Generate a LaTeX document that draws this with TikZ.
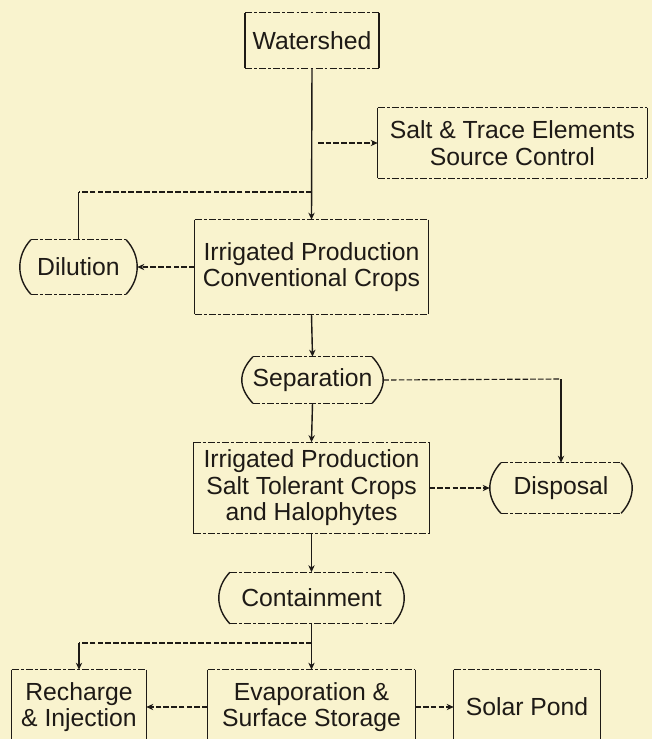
\documentclass[tikz,border=0pt]{standalone}
\usepackage{fontspec}
\setmainfont{Liberation Sans}
\usetikzlibrary{arrows.meta}
\definecolor{paper}{RGB}{249,243,206}
\definecolor{ink}{RGB}{30,26,22}
\tikzset{
  lbl/.style={inner sep=0pt, align=center, text=ink, font=\fontsize{17.6pt}{18.9pt}\selectfont},
  side/.style={draw=ink, line width=1pt},
  brk/.style={draw=ink, line width=0.7pt, dash pattern=on 5pt off 1.5pt on 2pt off 1.5pt},
  dline/.style={draw=ink, line width=0.8pt, dash pattern=on 4pt off 1.5pt},
  flow/.style={side, -{Stealth[length=5pt,width=4.5pt]}},
  dflow/.style={dline, -{Stealth[length=5pt,width=4.5pt]}}
}

\begin{document}
\begin{tikzpicture}[x=0.025cm, y=-0.025cm]
\useasboundingbox (0,0) rectangle (652,739);
\clip (0,0) rectangle (652,739);
\fill[paper] (0,0) rectangle (652,739);

\node[lbl, minimum width=3.325cm, minimum height=1.375cm] (w) at (312,40.5) {Watershed};
\node[lbl, minimum width=6.725cm, minimum height=1.75cm] (sc) at (512.5,143) {Salt \& Trace Elements\\Source Control};
\node[lbl, minimum width=5.825cm, minimum height=2.35cm] (ic) at (311.5,267) {Irrigated Production\\Conventional Crops};
\node[lbl, minimum width=2.925cm, minimum height=1.35cm] (dl) at (78.5,267) {Dilution};
\node[lbl, minimum width=3.525cm, minimum height=1.15cm] (se) at (312.5,380) {Separation};
\node[lbl, minimum width=5.875cm, minimum height=2.275cm] (it) at (311.5,488) {Irrigated Production\\Salt Tolerant Crops\\and Halophytes};
\node[lbl, minimum width=3.55cm, minimum height=1.25cm] (ds) at (561,488) {Disposal};
\node[lbl, minimum width=4.625cm, minimum height=1.275cm] (co) at (311.5,598) {Containment};
\node[lbl, minimum width=3.35cm, minimum height=1.85cm] (rc) at (79,707) {Recharge\\\& Injection};
\node[lbl, minimum width=5.175cm, minimum height=1.85cm] (ev) at (311.5,707) {Evaporation \&\\Surface Storage};
\node[lbl, minimum width=3.65cm, minimum height=1.85cm] (sp) at (527,707) {Solar Pond};

% box outlines: solid sides, broken top and bottom
\foreach \n in {w,sc,ic,it,rc,ev,sp} {
  \draw[side] (\n.north west) -- (\n.south west) (\n.north east) -- (\n.south east);
  \draw[brk] (\n.north west) -- (\n.north east) (\n.south west) -- (\n.south east);
}
% bracket-like ends
\foreach \n in {dl,se,ds,co} {
  \draw[side] ([xshift=2.8mm]\n.north west) .. controls +(-3.7mm,-4mm) and +(-3.7mm,4mm) .. ([xshift=2.8mm]\n.south west);
  \draw[side] ([xshift=-2.8mm]\n.north east) .. controls +(3.7mm,-4mm) and +(3.7mm,4mm) .. ([xshift=-2.8mm]\n.south east);
  \draw[brk] ([xshift=2.8mm]\n.north west) -- ([xshift=-2.8mm]\n.north east) ([xshift=2.8mm]\n.south west) -- ([xshift=-2.8mm]\n.south east);
}

\coordinate (t1) at (318,143);
\coordinate (t2) at (312,192);
\coordinate (c2) at (78.5,192);
\coordinate (c3) at (561,379);
\coordinate (t4) at (312,643);
\coordinate (c4) at (79,643);

\draw[flow] (w.south) -- (ic.north);
\draw[dflow] (t1) -- (sc.west);
\draw[dline] (t2) -- (c2);
\draw[side] (c2) -- (dl.north);
\draw[dflow] (ic.west) -- (dl.east);
\draw[flow] (ic.south) -- (se.north);
\draw[dline] (se.east) -- (c3);
\draw[flow] (c3) -- (ds.north);
\draw[flow] (se.south) -- (it.north);
\draw[dflow] (it.east) -- (ds.west);
\draw[flow] (it.south) -- (co.north);
\draw[flow] (co.south) -- (ev.north);
\draw[dline] (t4) -- (c4);
\draw[flow] (c4) -- (rc.north);
\draw[dflow] (ev.west) -- (rc.east);
\draw[dflow] (ev.east) -- (sp.west);
\end{tikzpicture}
\end{document}
